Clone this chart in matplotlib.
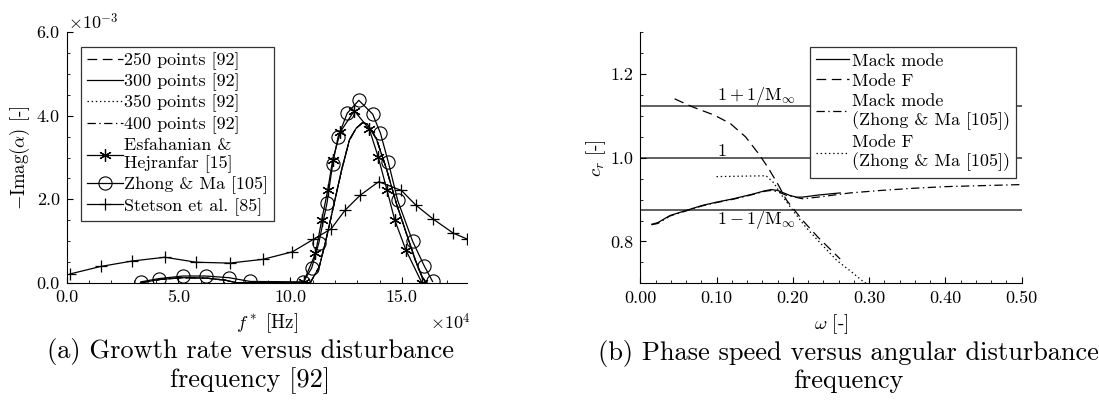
import numpy as np
import matplotlib
matplotlib.use("Agg")
import matplotlib.pyplot as plt
from matplotlib.ticker import MultipleLocator, FormatStrFormatter

plt.rcParams['font.family'] = ['cmr10', 'DejaVu Serif']
plt.rcParams['mathtext.fontset'] = 'cm'
plt.rcParams['axes.unicode_minus'] = False
plt.rcParams['axes.formatter.use_mathtext'] = True
plt.rcParams['lines.scale_dashes'] = False

# --- (a) growth rate, f in 1e4 Hz, -Imag(alpha) in 1e-3 ---
f_grid = [3.3, 4.2, 5.2, 6.25, 7.1, 7.6, 9.0, 10.9, 11.3, 11.6, 11.9, 12.3, 12.65,
          12.95, 13.25, 13.45, 13.85, 14.3, 14.75, 15.2, 15.6, 15.9, 16.1]
growth_grid = [0.0, 0.08, 0.12, 0.11, 0.06, 0.0, 0.0, 0.0, 0.38, 1.02, 1.74, 2.7, 3.42,
               3.7, 3.84, 3.8, 3.46, 2.74, 1.9, 1.18, 0.54, 0.14, 0.0]

f_esf = [10.6, 11.13, 11.41, 11.68, 11.9, 12.25, 12.87, 13.54, 13.94, 14.33, 14.68, 15.18, 15.89]
growth_esf = [0.02, 0.70, 1.5, 2.22, 2.94, 3.62, 4.12, 3.68, 3.01, 2.22, 1.5, 0.78, 0.0]

f_zhong = [3.32, 4.14, 5.21, 6.22, 7.26, 8.21, 10.59, 10.96, 11.28, 11.65, 11.9, 12.14,
           12.55, 13.07, 13.69, 14.04, 14.39, 14.81, 15.48, 16.0, 16.37]
growth_zhong = [0.02, 0.10, 0.16, 0.16, 0.12, 0.03, 0.02, 0.35, 0.95, 1.92, 2.84, 3.49,
                4.06, 4.37, 4.04, 3.58, 2.89, 1.97, 0.99, 0.40, 0.03]

f_stetson = [0.15, 1.53, 2.94, 4.39, 5.8, 7.29, 8.78, 10.1, 11.04, 11.83, 12.46, 13.14,
             13.96, 14.98, 15.62, 16.41, 17.29, 17.9]
growth_stetson = [0.21, 0.39, 0.52, 0.61, 0.49, 0.47, 0.56, 0.74, 1.04, 1.29, 1.74, 2.1,
                  2.42, 2.21, 1.86, 1.52, 1.19, 1.05]

# --- (b) phase speed ---
mach_inf = 8.0
w_mack = [0.015, 0.023, 0.039, 0.060, 0.081, 0.100, 0.122, 0.147, 0.163, 0.1715, 0.180,
          0.188, 0.196, 0.2045, 0.213, 0.2335, 0.262]
cr_mack = [0.841, 0.845, 0.862, 0.874, 0.886, 0.894, 0.902, 0.913, 0.921, 0.924, 0.922,
           0.916, 0.910, 0.906, 0.906, 0.911, 0.916]

w_modef = [0.045, 0.068, 0.097, 0.118, 0.138, 0.155, 0.167, 0.180, 0.192, 0.213, 0.233, 0.262]
cr_modef = [1.141, 1.122, 1.102, 1.082, 1.050, 1.010, 0.978, 0.938, 0.898, 0.850, 0.810, 0.758]

w_mack_zm = [0.015, 0.023, 0.039, 0.060, 0.081, 0.100, 0.122, 0.147, 0.163, 0.172, 0.180,
             0.192, 0.213, 0.233, 0.275, 0.316, 0.357, 0.399, 0.500]
cr_mack_zm = [0.840, 0.843, 0.861, 0.873, 0.885, 0.893, 0.901, 0.912, 0.920, 0.922, 0.919,
              0.910, 0.902, 0.906, 0.916, 0.922, 0.927, 0.931, 0.936]

w_modef_zm = [0.100, 0.130, 0.165, 0.175, 0.184, 0.200, 0.217, 0.233, 0.258, 0.275, 0.291, 0.296]
cr_modef_zm = [0.955, 0.956, 0.957, 0.940, 0.914, 0.874, 0.834, 0.802, 0.754, 0.730, 0.706, 0.700]

FS = 13

fig = plt.figure(figsize=(10.99, 4.07), dpi=100)
ax1 = fig.add_axes([0.0607, 0.3054, 0.364, 0.6152])
ax2 = fig.add_axes([0.5826, 0.3040, 0.3471, 0.6166])

lw = 0.9
ax1.plot(f_grid, growth_grid, color='k', lw=lw, ls=(0, (7, 4)), label='250 points [92]')
ax1.plot(f_grid, growth_grid, color='k', lw=lw, ls='-', label='300 points [92]')
ax1.plot(f_grid, growth_grid, color='k', lw=lw, ls=(0, (1, 2)), label='350 points [92]')
ax1.plot(f_grid, growth_grid, color='k', lw=lw, ls=(0, (6, 2.5, 1, 2.5)), label='400 points [92]')
ax1.plot(f_esf, growth_esf, color='k', lw=lw, marker=(6, 2, 0), ms=9, mew=0.9,
         label='Esfahanian &\nHejranfar [15]')
ax1.plot(f_zhong, growth_zhong, color='k', lw=lw, marker='o', ms=9.5, mfc='none', mew=0.8,
         label='Zhong & Ma [105]')
ax1.plot(f_stetson, growth_stetson, color='k', lw=lw, marker='+', ms=8, mew=0.9,
         label='Stetson et al. [85]')

ax1.set_xlim(0, 17.9)
ax1.set_ylim(0, 6.0)
ax1.xaxis.set_major_locator(MultipleLocator(5))
ax1.xaxis.set_minor_locator(MultipleLocator(1))
ax1.yaxis.set_major_locator(MultipleLocator(2))
ax1.yaxis.set_minor_locator(MultipleLocator(0.5))
ax1.xaxis.set_major_formatter(FormatStrFormatter('%.1f'))
ax1.yaxis.set_major_formatter(FormatStrFormatter('%.1f'))
ax1.set_xlabel(r'$f^*$ [Hz]', fontsize=FS + 0.5)
ax1.set_ylabel(r'$-\mathrm{Imag}(\alpha)$ [-]', fontsize=FS + 0.5)
ax1.xaxis.set_label_coords(0.5, -0.115)
ax1.yaxis.set_label_coords(-0.088, 0.5)
ax1.text(0.003, 1.0, r'$\times10^{-3}$', transform=ax1.transAxes, fontsize=FS,
         ha='left', va='bottom')
ax1.text(1.01, -0.115, r'$\times10^{4}$', transform=ax1.transAxes, fontsize=FS,
         ha='right', va='top')
leg1 = ax1.legend(loc='upper left', bbox_to_anchor=(0.036, 0.943), borderaxespad=0,
                  fontsize=FS, frameon=True, fancybox=False, edgecolor='#333333',
                  handlelength=2.0, handletextpad=0.1, labelspacing=0.2,
                  borderpad=0.3, framealpha=1)
leg1.get_frame().set_linewidth(0.9)

# horizontal reference lines
for val in [1 + 1 / mach_inf, 1.0, 1 - 1 / mach_inf]:
    ax2.axhline(val, color='#444444', lw=1.2, zorder=1)
ax2.text(0.1, 1 + 1 / mach_inf - 0.004, r'$1+1/\mathrm{M}_\infty$', fontsize=FS,
         ha='left', va='bottom')
ax2.text(0.1, 1.0 - 0.004, r'$1$', fontsize=FS, ha='left', va='bottom')
ax2.text(0.1, 1 - 1 / mach_inf + 0.003, r'$1-1/\mathrm{M}_\infty$', fontsize=FS,
         ha='left', va='top')

ax2.plot(w_mack, cr_mack, color='k', lw=lw, ls='-', label='Mack mode')
ax2.plot(w_modef, cr_modef, color='k', lw=lw, ls=(0, (7, 4)), label='Mode F')
ax2.plot(w_mack_zm, cr_mack_zm, color='k', lw=lw, ls=(0, (6, 2.5, 1, 2.5)),
         label='Mack mode\n(Zhong & Ma [105])')
ax2.plot(w_modef_zm, cr_modef_zm, color='k', lw=lw, ls=(0, (1, 2)),
         label='Mode F\n(Zhong & Ma [105])')

ax2.set_xlim(0, 0.5)
ax2.set_ylim(0.7, 1.3)
ax2.xaxis.set_major_locator(MultipleLocator(0.1))
ax2.xaxis.set_minor_locator(MultipleLocator(0.02))
ax2.yaxis.set_major_locator(MultipleLocator(0.2))
ax2.yaxis.set_minor_locator(MultipleLocator(0.05))
ax2.xaxis.set_major_formatter(FormatStrFormatter('%.2f'))
ax2.yaxis.set_major_formatter(FormatStrFormatter('%.1f'))
ax2.set_xlabel(r'$\omega$ [-]', fontsize=FS + 0.5)
ax2.set_ylabel(r'$c_r$ [-]', fontsize=FS + 0.5)
ax2.xaxis.set_label_coords(0.5, -0.115)
ax2.yaxis.set_label_coords(-0.085, 0.5)
leg2 = ax2.legend(loc='upper left', bbox_to_anchor=(0.445, 0.943), borderaxespad=0,
                  fontsize=FS, frameon=True, fancybox=False, edgecolor='#333333',
                  handlelength=1.8, handletextpad=0.15, labelspacing=0.25,
                  borderpad=0.35, framealpha=1)
leg2.get_frame().set_linewidth(0.9)
leg2.set_zorder(5)

for ax in (ax1, ax2):
    ax.spines['top'].set_visible(False)
    ax.spines['right'].set_visible(False)
    ax.tick_params(which='both', direction='in', top=False, right=False, labelsize=FS,
                   pad=5)
    ax.tick_params(which='major', length=4, width=0.8)
    ax.tick_params(which='minor', length=2.5, width=0.6)

fig.text(0.2275, 0.1, '(a) Growth rate versus disturbance\nfrequency [92]',
         ha='center', va='center', fontsize=19, linespacing=1.1)
fig.text(0.772, 0.1, '(b) Phase speed versus angular disturbance\nfrequency',
         ha='center', va='center', fontsize=19, linespacing=1.1)

fig.savefig('out.png', dpi=100)
